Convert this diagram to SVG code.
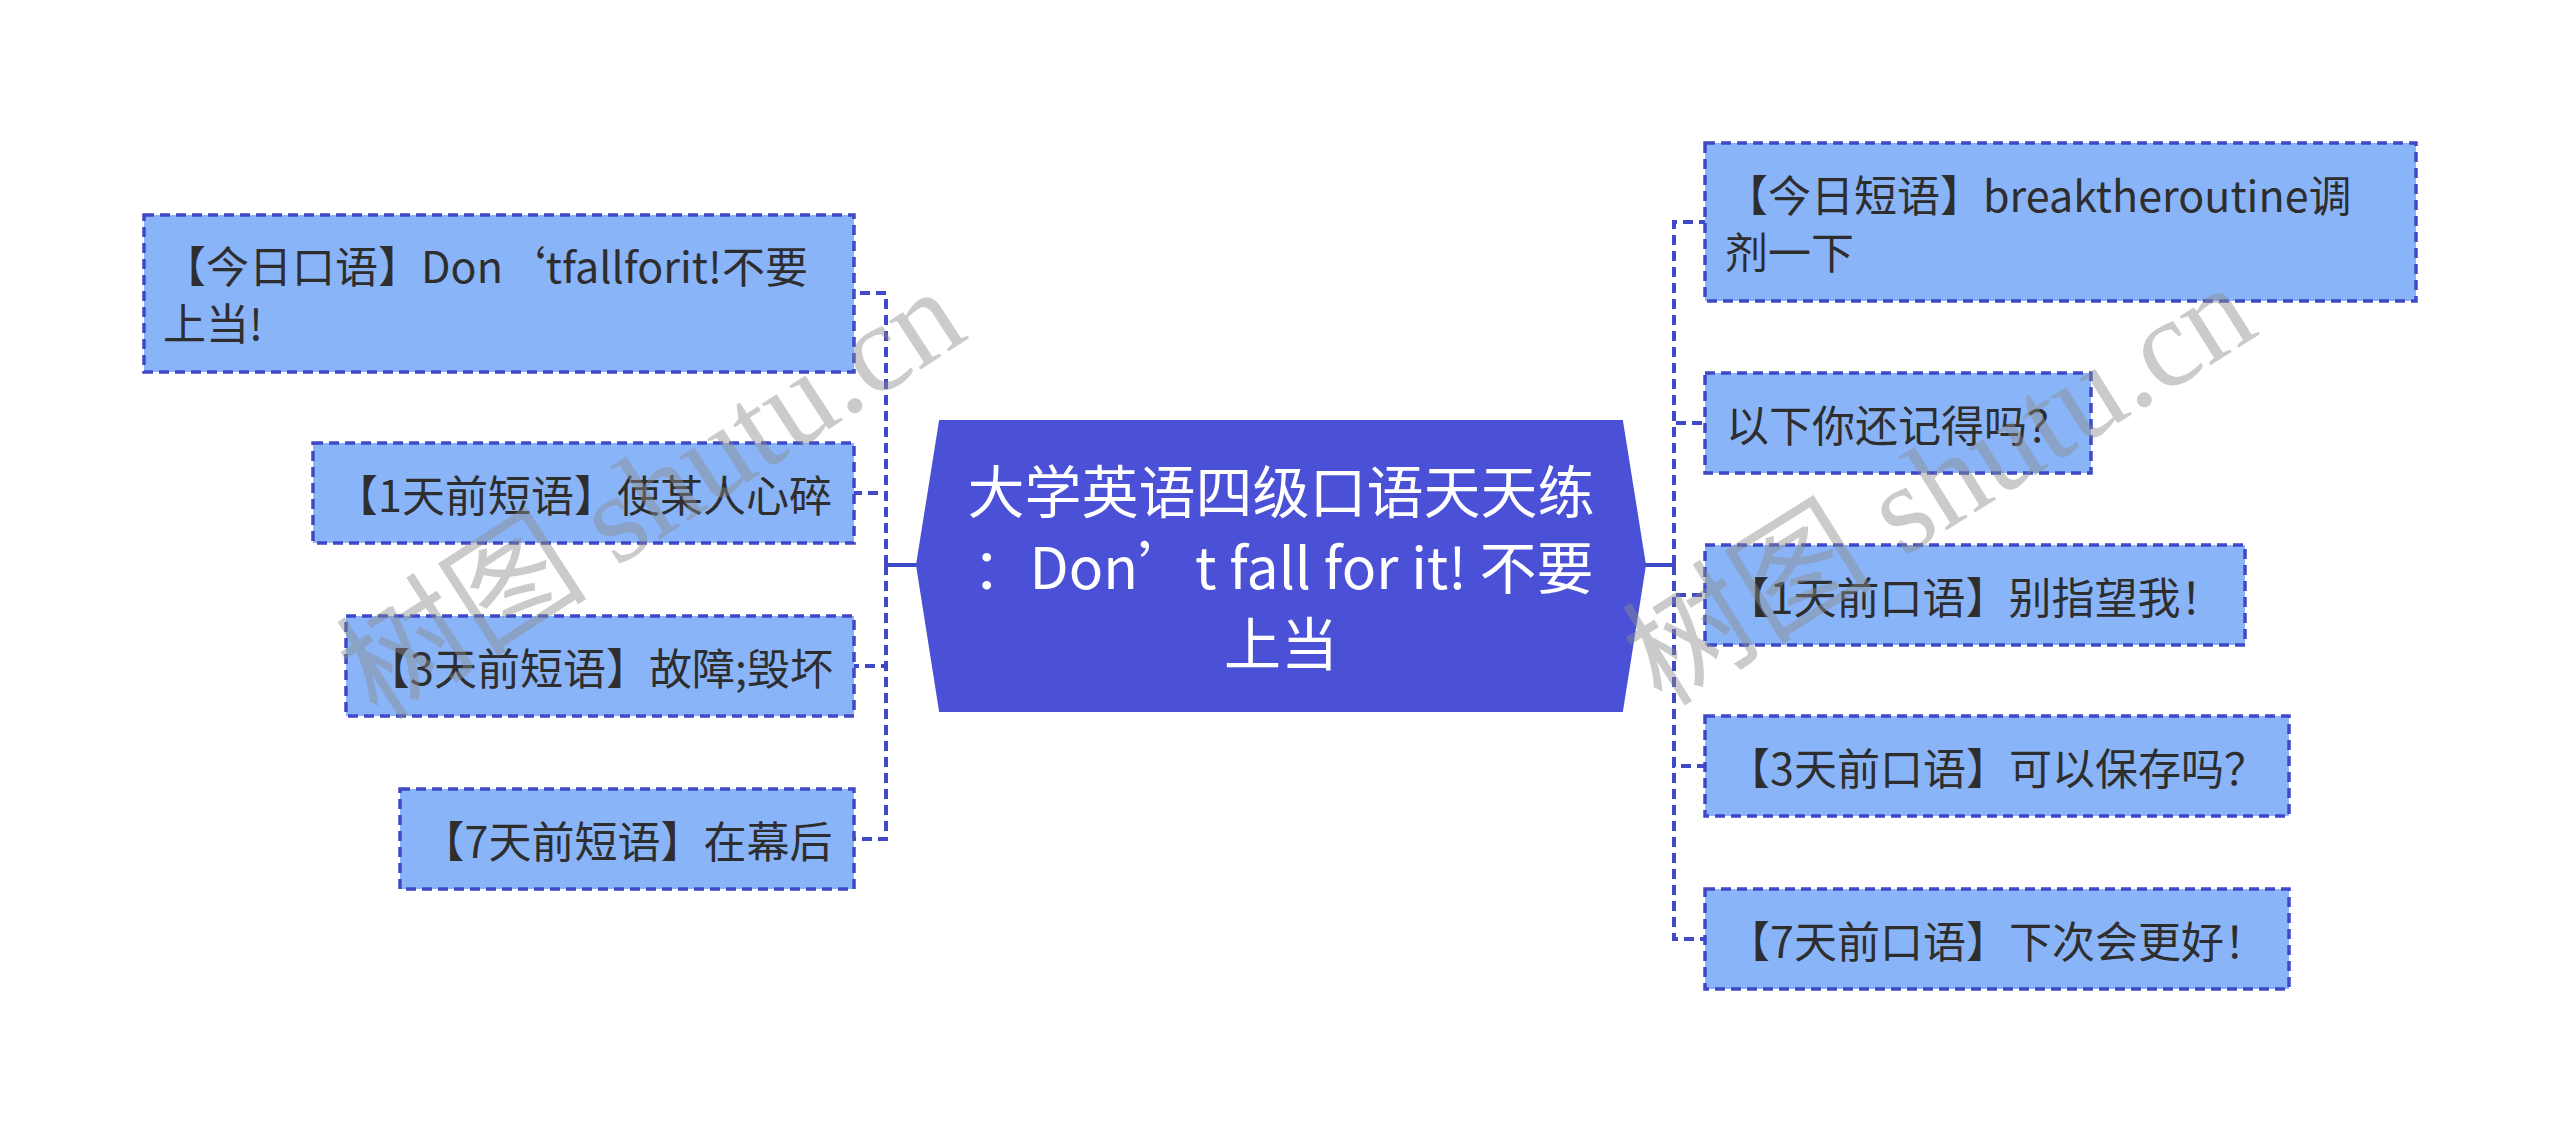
<svg xmlns="http://www.w3.org/2000/svg" width="2560" height="1132" viewBox="0 0 2560 1132">
<style>
.box{fill:#8ab4f8;stroke:#3f48c6;stroke-width:3.5;stroke-dasharray:10 6}
.t{font-family:"Noto Sans CJK SC","Microsoft YaHei",sans-serif;font-size:43px;fill:#2e2e2e;dominant-baseline:central}
.c{text-anchor:middle}
.ct{font-family:"Noto Sans CJK SC","Microsoft YaHei",sans-serif;font-size:57px;fill:#ffffff;text-anchor:middle;dominant-baseline:central}
.dash{fill:none;stroke:#3f48c6;stroke-width:4;stroke-dasharray:10 6}
.solid{fill:none;stroke:#3f48c6;stroke-width:4}
.wm{font-family:"Liberation Serif","Noto Sans CJK SC",serif;font-size:126px;fill:#8c8c8c;fill-opacity:0.45}
</style>
<rect width="2560" height="1132" fill="#ffffff"/>
<g id="connectors">
<line class="solid" x1="917" y1="565" x2="886" y2="565"/>
<path class="dash" d="M886 565 V293 H854"/>
<path class="dash" d="M886 565 V493 H854"/>
<path class="dash" d="M886 565 V666 H854"/>
<path class="dash" d="M886 565 V839 H854"/>
<line class="solid" x1="1645" y1="565" x2="1674" y2="565"/>
<path class="dash" d="M1674 565 V222 H1705"/>
<path class="dash" d="M1674 565 V423 H1705"/>
<path class="dash" d="M1674 565 V595 H1705"/>
<path class="dash" d="M1674 565 V766 H1705"/>
<path class="dash" d="M1674 565 V939 H1705"/>
</g>
<g id="center">
<polygon points="940,421 1622,421 1645,565 1622,711 940,711 917,565" fill="#4a51d6" stroke="#4a51d6" stroke-width="2"/>
<text class="ct" x="1281" y="488">大学英语四级口语天天练</text>
<text class="ct" x="1283" y="564">：Don’t fall for it! 不要</text>
<text class="ct" x="1281" y="640">上当</text>
</g>
<g id="left1">
<rect class="box" x="144" y="215" width="710" height="157"/>
<text class="t" x="163" y="264">【今日口语】Don‘tfallforit!不要</text>
<text class="t" x="163" y="321">上当!</text>
</g>
<g id="left2">
<rect class="box" x="313" y="443" width="541" height="100"/>
<text class="t c" x="583.5" y="493">【1天前短语】使某人心碎</text>
</g>
<g id="left3">
<rect class="box" x="346" y="616" width="508" height="100"/>
<text class="t c" x="600" y="666">【3天前短语】故障;毁坏</text>
</g>
<g id="left4">
<rect class="box" x="400" y="789" width="454" height="100"/>
<text class="t c" x="627" y="839">【7天前短语】在幕后</text>
</g>
<g id="right1">
<rect class="box" x="1705" y="143" width="711" height="158"/>
<text class="t" x="1725" y="193">【今日短语】breaktheroutine调</text>
<text class="t" x="1725" y="250">剂一下</text>
</g>
<g id="right2">
<rect class="box" x="1705" y="373" width="386" height="100"/>
<text class="t c" x="1898" y="423">以下你还记得吗？</text>
</g>
<g id="right3">
<rect class="box" x="1705" y="545" width="540" height="100"/>
<text class="t c" x="1975" y="595">【1天前口语】别指望我！</text>
</g>
<g id="right4">
<rect class="box" x="1705" y="716" width="584" height="100"/>
<text class="t c" x="1997" y="766">【3天前口语】可以保存吗？</text>
</g>
<g id="right5">
<rect class="box" x="1705" y="889" width="584" height="100"/>
<text class="t c" x="1997" y="939">【7天前口语】下次会更好！</text>
</g>
<g id="watermark">
<text class="wm" x="378" y="722" transform="rotate(-33 378 722)">树图 shutu.cn</text>
<text class="wm" x="1662" y="708" transform="rotate(-32 1662 708)">树图 shutu.cn</text>
</g>
</svg>
